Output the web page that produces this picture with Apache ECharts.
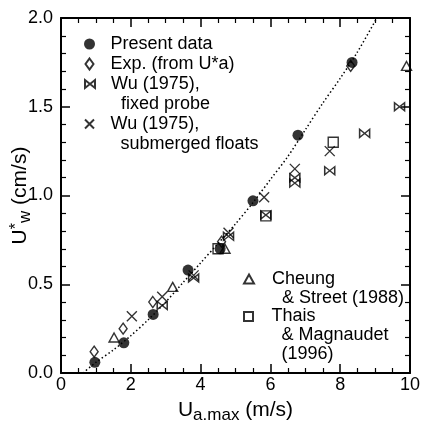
<!DOCTYPE html>
<html>
<head>
<meta charset="utf-8">
<script src="https://cdn.jsdelivr.net/npm/echarts@6/dist/echarts.min.js"></script>
<style>
  html, body { margin: 0; padding: 0; background: #fff; }
  #main { width: 422px; height: 422px; }
</style>
</head>
<body>
<div id="main"></div>
<script>
// values
var presentX = [0.97, 1.8, 2.64, 3.64, 4.56, 5.5, 6.79, 8.34];
var presentY = [0.06, 0.17, 0.33, 0.58, 0.70, 0.97, 1.34, 1.75];
var expX = [0.95, 1.78, 2.63, 4.6, 8.3];
var expY = [0.12, 0.25, 0.40, 0.74, 1.73];
var wuFixedX = [2.9, 3.8, 4.8, 5.87, 6.7, 6.7, 7.7, 8.7, 9.7];
var wuFixedY = [0.38, 0.535, 0.77, 0.89, 1.10, 1.07, 1.14, 1.35, 1.50];
var wuFloatX = [2.03, 2.9, 3.8, 4.8, 5.82, 6.7, 7.7];
var wuFloatY = [0.32, 0.43, 0.55, 0.79, 0.99, 1.15, 1.25];
var cheungX = [1.52, 3.2, 4.7, 9.9];
var cheungY = [0.20, 0.485, 0.70, 1.73];
var thaisX = [4.5, 5.87, 7.8];
var thaisY = [0.70, 0.885, 1.30];
// dotted fit curve
var fitX = [0.63, 1.0, 1.5, 2.0, 2.5, 3.0, 3.5, 4.0, 4.5, 5.0, 5.5, 6.0, 6.5, 7.0, 7.5, 8.0, 8.5, 9.05];
var fitY = [0.0, 0.06, 0.13, 0.21, 0.30, 0.40, 0.51, 0.62, 0.73, 0.84, 0.96, 1.09, 1.22, 1.37, 1.52, 1.66, 1.81, 2.0];

var names = ["Present data", "Exp. (from U*a)", "Wu fixed", "Wu floats", "Cheung", "Thais"];
var labels = {
  "Present data": "Present data",
  "Exp. (from U*a)": "Exp. (from U*a)",
  "Wu fixed": "Wu (1975),\n  fixed probe",
  "Wu floats": "Wu (1975),\n  submerged floats",
  "Cheung": "Cheung\n  & Street (1988)",
  "Thais": "Thais\n  & Magnaudet\n  (1996)"
};

var FONT = "Liberation Sans, Arial, Helvetica, sans-serif";

var SYM_DIAMOND = "path://M4,0L8,5.5L4,11L0,5.5Z";
var SYM_BOWTIE = "path://M0,0L0,8L10,0L10,8Z";
var SYM_CROSS = "path://M0,0L10,10M10,0L0,10";
var SYM_TRI = "path://M5,0L10,9L0,9Z";
var SYM_RECT = "path://M0,0L10,0L10,10L0,10Z";

function pairs(xs, ys) {
  return xs.map(function (x, i) { return [x, ys[i]]; });
}

function hollow(name, symbol, size, xs, ys) {
  return {
    name: name,
    type: "scatter",
    symbol: symbol,
    symbolSize: size,
    itemStyle: { color: "rgba(0,0,0,0)", borderColor: "#000", borderWidth: 1.4 },
    data: pairs(xs, ys),
    z: 3
  };
}

// the icon sits on the first text line: blank lines are added on top
function legendBox(items, icons, left, top, lineH, iconW, iconH) {
  return {
    left: left,
    top: top,
    orient: "vertical",
    padding: 0,
    itemGap: 0,
    itemWidth: iconW,
    itemHeight: iconH,
    symbolKeepAspect: true,
    selectedMode: false,
    data: items.map(function (n, i) { return { name: n, icon: icons[i] }; }),
    formatter: function (n) {
      var t = labels[n];
      var extra = t.split("\n").length - 1;
      return new Array(extra + 1).join("\n") + t;
    },
    textStyle: { fontFamily: FONT, fontSize: 18, color: "#000", lineHeight: lineH }
  };
}

var frameLine = { show: true, onZero: false, lineStyle: { color: "#000", width: 2 } };
var majorTick = { show: true, inside: true, length: 9, lineStyle: { color: "#000", width: 1.5 } };
function minor(n) {
  return { show: true, splitNumber: n, length: 5, lineStyle: { color: "#000", width: 1.2 } };
}

var myChart = echarts.init(document.getElementById("main"));
myChart.setOption({
  animation: false,
  backgroundColor: "#fff",
  textStyle: { fontFamily: FONT },
  grid: { left: 61, right: 12, top: 18, bottom: 49, containLabel: false, outerBoundsMode: "none" },
  legend: [
    legendBox([names[0], names[1]], ["circle", SYM_DIAMOND], 84, 34, 20, 32, 11),
    legendBox([names[2]], [SYM_BOWTIE], 84, 54, 20, 32, 8),
    legendBox([names[3]], [SYM_CROSS], 84, 94, 20, 32, 9),
    legendBox([names[4]], [SYM_TRI], 243, 250.5, 19, 36, 9),
    legendBox([names[5]], [SYM_RECT], 243, 269, 19, 36, 9)
  ],
  xAxis: [
    {
      type: "value", min: 0, max: 10, interval: 2, position: "bottom",
      axisLine: frameLine, axisTick: majorTick, minorTick: minor(4),
      splitLine: { show: false },
      axisLabel: { fontFamily: FONT, fontSize: 18, color: "#000", margin: 3 },
      name: "{u|U}{s|a.max}{u| (m/s)}",
      nameLocation: "middle",
      nameGap: 24,
      nameMoveOverlap: false,
      nameTextStyle: {
        rich: {
          u: { fontFamily: FONT, fontSize: 21, color: "#000" },
          s: { fontFamily: FONT, fontSize: 17, color: "#000", padding: [10, 0, 0, 0] }
        }
      }
    },
    {
      type: "value", min: 0, max: 10, interval: 2, position: "top",
      axisLine: frameLine, axisTick: majorTick, minorTick: minor(4),
      splitLine: { show: false },
      axisLabel: { show: false }
    }
  ],
  yAxis: [
    {
      type: "value", min: 0, max: 2, interval: 0.5, position: "left",
      axisLine: frameLine, axisTick: majorTick, minorTick: minor(5),
      splitLine: { show: false },
      axisLabel: {
        fontFamily: FONT, fontSize: 18, color: "#000", margin: 8,
        formatter: function (v) { return v.toFixed(1); }
      },
      name: "{u|U}{p|*}{s|w}{u| (cm/s)}",
      nameLocation: "middle",
      nameRotate: 90,
      nameGap: 27,
      nameMoveOverlap: false,
      nameTextStyle: {
        rich: {
          u: { fontFamily: FONT, fontSize: 21, color: "#000" },
          p: { fontFamily: FONT, fontSize: 16, color: "#000", padding: [0, 0, 8, 0] },
          s: { fontFamily: FONT, fontSize: 17, color: "#000", padding: [10, 0, 0, 0] }
        }
      }
    },
    {
      type: "value", min: 0, max: 2, interval: 0.5, position: "right",
      axisLine: frameLine, axisTick: majorTick, minorTick: minor(5),
      splitLine: { show: false },
      axisLabel: { show: false }
    }
  ],
  series: [
    {
      name: "fit",
      type: "line",
      data: pairs(fitX, fitY),
      showSymbol: false,
      symbol: "none",
      smooth: 0.3,
      lineStyle: { color: "#000", width: 1.5, type: [1.5, 2.5] },
      z: 2
    },
    {
      name: names[0],
      type: "scatter",
      symbol: "circle",
      symbolSize: 11,
      itemStyle: { color: "#000" },
      data: pairs(presentX, presentY),
      z: 4
    },
    hollow(names[1], SYM_DIAMOND, [8, 11], expX, expY),
    hollow(names[2], SYM_BOWTIE, [10, 8], wuFixedX, wuFixedY),
    hollow(names[3], SYM_CROSS, 10, wuFloatX, wuFloatY),
    hollow(names[4], SYM_TRI, [10, 9], cheungX, cheungY),
    hollow(names[5], SYM_RECT, 10, thaisX, thaisY)
  ]
});
</script>
</body>
</html>
